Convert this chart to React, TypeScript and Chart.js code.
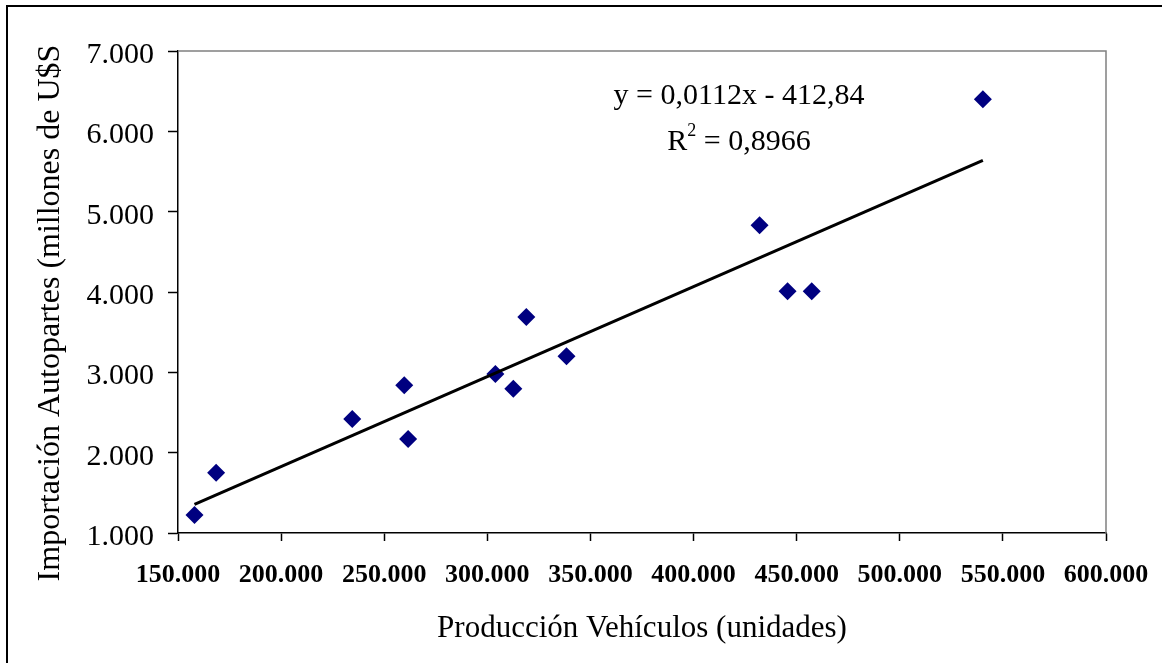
import React, { useEffect, useRef } from "react";
import { Chart, registerables } from "chart.js";

Chart.register(...registerables);

// Producción de vehículos (unidades)
const produccion = [158000, 168500, 234500, 259700, 261600, 303900, 312600, 318900, 338400, 432000, 445600, 457300, 540300];
// Importación de autopartes (millones de U$S)
const importacion = [1225, 1750, 2420, 2840, 2170, 2980, 2795, 3690, 3200, 4830, 4010, 4010, 6400];
// Línea de tendencia (extremos)
const trendX = [158000, 540300];
const trendY = [1357, 5638];

const xTicks = { min: 150000, max: 600000, step: 50000 };
const yTicks = { min: 1000, max: 7000, step: 1000 };

const equationText = "y = 0,0112x - 412,84";
const r2Value = " = 0,8966";
const xTitle = "Producción Vehículos (unidades)";
const yTitle = "Importación Autopartes (millones de U$S";

const SERIF = "'Liberation Serif', 'Times New Roman', serif";

function fmt(v: number) {
  return String(Math.round(v)).replace(/\B(?=(\d{3})+(?!\d))/g, ".");
}

const decorPlugin = {
  id: "decor",
  beforeDraw(chart: any) {
    const ctx = chart.ctx;
    ctx.save();
    ctx.fillStyle = "#ffffff";
    ctx.fillRect(0, 0, chart.width, chart.height);
    ctx.strokeStyle = "#000000";
    ctx.lineWidth = 2;
    ctx.strokeRect(7, 6, chart.width + 50, chart.height + 50);
    ctx.restore();
  },
  afterDatasetsDraw(chart: any) {
    const ctx = chart.ctx;
    const a = chart.chartArea;
    ctx.save();
    ctx.strokeStyle = "#808080";
    ctx.lineWidth = 1.5;
    ctx.beginPath();
    ctx.moveTo(a.left, a.top);
    ctx.lineTo(a.right, a.top);
    ctx.lineTo(a.right, a.bottom);
    ctx.stroke();

    // y axis title (off-centre as in the original)
    ctx.save();
    ctx.translate(51, 313);
    ctx.rotate(-Math.PI / 2);
    ctx.fillStyle = "#000000";
    ctx.textAlign = "center";
    ctx.textBaseline = "middle";
    ctx.font = `32px ${SERIF}`;
    ctx.fillText(yTitle, 0, 0);
    ctx.restore();

    // trendline equation
    const cx = 739;
    ctx.fillStyle = "#000000";
    ctx.textBaseline = "middle";
    ctx.textAlign = "center";
    ctx.font = `30px ${SERIF}`;
    ctx.fillText(equationText, cx, 96);

    const big = `30px ${SERIF}`;
    const small = `18px ${SERIF}`;
    ctx.font = big;
    const wR = ctx.measureText("R").width;
    const wRest = ctx.measureText(r2Value).width;
    ctx.font = small;
    const w2 = ctx.measureText("2").width;
    const total = wR + w2 + wRest;
    let x = cx - total / 2;
    ctx.textAlign = "left";
    ctx.font = big;
    ctx.fillText("R", x, 142);
    x += wR;
    ctx.font = small;
    ctx.fillText("2", x, 131);
    x += w2;
    ctx.font = big;
    ctx.fillText(r2Value, x, 142);
    ctx.restore();
  },
};

export default function App() {
  const ref = useRef<HTMLCanvasElement | null>(null);

  useEffect(() => {
    if (!ref.current) return;
    const chart = new Chart(ref.current, {
      type: "scatter",
      data: {
        datasets: [
          {
            type: "line",
            label: "Tendencia",
            data: trendX.map((x, i) => ({ x, y: trendY[i] })),
            borderColor: "#000000",
            borderWidth: 3,
            pointRadius: 0,
            showLine: true,
            fill: false,
          } as any,
          {
            label: "Datos",
            data: produccion.map((x, i) => ({ x, y: importacion[i] })),
            backgroundColor: "#000080",
            borderColor: "#000080",
            borderWidth: 0,
            pointStyle: "rectRot",
            pointRadius: 9,
            pointHoverRadius: 9,
          },
        ],
      },
      plugins: [decorPlugin],
      options: {
        animation: false,
        responsive: false,
        devicePixelRatio: 1,
        layout: { padding: { left: 0, top: 51, right: 56, bottom: 0 } },
        plugins: {
          legend: { display: false },
          tooltip: { enabled: false },
        },
        scales: {
          x: {
            type: "linear",
            min: xTicks.min,
            max: xTicks.max,
            afterFit(scale: any) {
              scale.height = 130;
              scale.paddingLeft = 0;
              scale.paddingRight = 0;
            },
            border: { display: true, color: "#000000", width: 1.5 },
            grid: {
              drawOnChartArea: false,
              drawTicks: true,
              tickLength: 8,
              tickWidth: 1.5,
              color: "#000000",
            },
            ticks: {
              stepSize: xTicks.step,
              color: "#000000",
              padding: 19,
              maxRotation: 0,
              autoSkip: false,
              font: { family: SERIF, size: 26, weight: "bold" },
              callback: (v: any) => fmt(Number(v)),
            },
            title: {
              display: true,
              text: xTitle,
              color: "#000000",
              font: { family: SERIF, size: 31 },
              padding: { top: 0, bottom: 16 },
            },
          },
          y: {
            type: "linear",
            min: yTicks.min,
            max: yTicks.max,
            afterFit(scale: any) {
              scale.width = 178;
              scale.paddingTop = 0;
              scale.paddingBottom = 0;
            },
            border: { display: true, color: "#000000", width: 1.5 },
            grid: {
              drawOnChartArea: false,
              drawTicks: true,
              tickLength: 10,
              tickWidth: 1.5,
              color: "#000000",
            },
            ticks: {
              stepSize: yTicks.step,
              color: "#000000",
              padding: 14,
              labelOffset: 4,
              font: { family: SERIF, size: 30 },
              callback: (v: any) => fmt(Number(v)),
            },
            title: { display: false },
          },
        },
      } as any,
    });
    return () => chart.destroy();
  }, []);

  return (
    <div style={{ position: "absolute", left: 0, top: 0, width: 1162, height: 663, background: "#fff" }}>
      <canvas ref={ref} width={1162} height={663} style={{ width: 1162, height: 663, display: "block" }} />
    </div>
  );
}
